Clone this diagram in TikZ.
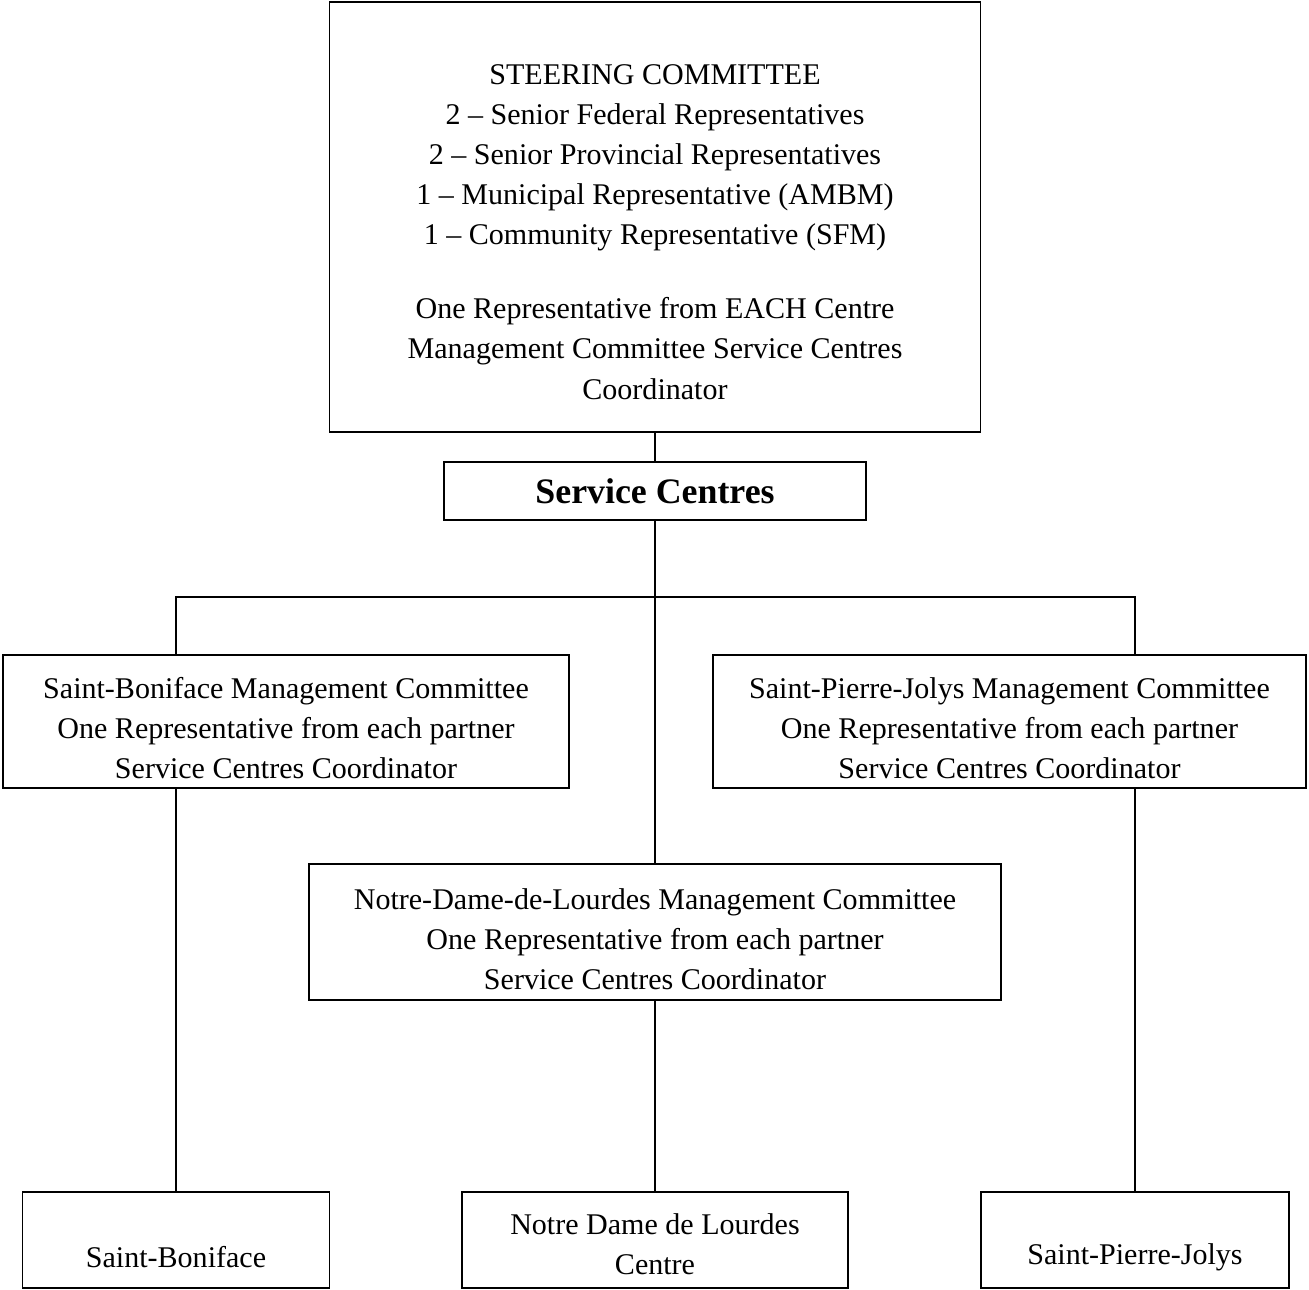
\documentclass[tikz,border=0pt]{standalone}
\usepackage{fontspec}
\setmainfont{Liberation Serif}
\usetikzlibrary{positioning}

\def\px{0.02cm}

\begin{document}
\begin{tikzpicture}[
    x=\px, y=-\px,
    box/.style={draw, line width=0.8pt, align=center, inner sep=0pt,
        font=\fontsize{17.1}{22.8}\selectfont},
    title/.style={box, font=\fontsize{20.4}{24}\selectfont\bfseries},
    link/.style={draw, line width=0.8pt},
]
\useasboundingbox (0,0) rectangle (1309,1290);

% steering committee and service centres
\node[box, minimum width=651*\px, minimum height=430*\px] (steer) at (655,217)
    {\mbox{}\\[5.7pt]STEERING COMMITTEE\\
     2 – Senior Federal Representatives\\
     2 – Senior Provincial Representatives\\
     1 – Municipal Representative (AMBM)\\
     1 – Community Representative (SFM)\\[19.3pt]
     One Representative from EACH Centre\\
     Management Committee Service Centres\\
     Coordinator};
\node[title, minimum width=422*\px, minimum height=58*\px] (sc) at (655,491)
    {Service Centres};

% management committees
\node[box, minimum width=566*\px, minimum height=133*\px] (sbmc) at (286,721.5)
    {\mbox{}\\[-3.2pt]Saint-Boniface Management Committee\\
     One Representative from each partner\\
     Service Centres Coordinator};
\node[box, minimum width=593*\px, minimum height=133*\px] (spjmc) at (1009.5,721.5)
    {\mbox{}\\[-3.2pt]Saint-Pierre-Jolys Management Committee\\
     One Representative from each partner\\
     Service Centres Coordinator};
\node[box, minimum width=692*\px, minimum height=136*\px] (nddlmc) at (655,932)
    {\mbox{}\\[-3.2pt]Notre-Dame-de-Lourdes Management Committee\\
     One Representative from each partner\\
     Service Centres Coordinator};

% centres
\node[box, minimum width=307*\px, minimum height=96*\px] (sb) at (176,1240)
    {\mbox{}\\[9pt]Saint-Boniface};
\node[box, minimum width=386*\px, minimum height=96*\px] (nddl) at (655,1240)
    {\mbox{}\\[-6.6pt]Notre Dame de Lourdes\\Centre};
\node[box, minimum width=308*\px, minimum height=96*\px] (spj) at (1135,1240)
    {\mbox{}\\[9pt]Saint-Pierre-Jolys};

% connectors
\coordinate (split) at (655,597);
\draw[link] (steer.south) -- (sc.north);
\draw[link] (sc.south) -- (nddlmc.north);
\draw[link] (sb.north |- sbmc.north) |- (split) -| (spj.north |- spjmc.north);
\draw[link] (sb.north |- sbmc.south) -- (sb.north);
\draw[link] (nddlmc.south) -- (nddl.north);
\draw[link] (spj.north |- spjmc.south) -- (spj.north);

\end{tikzpicture}
\end{document}
